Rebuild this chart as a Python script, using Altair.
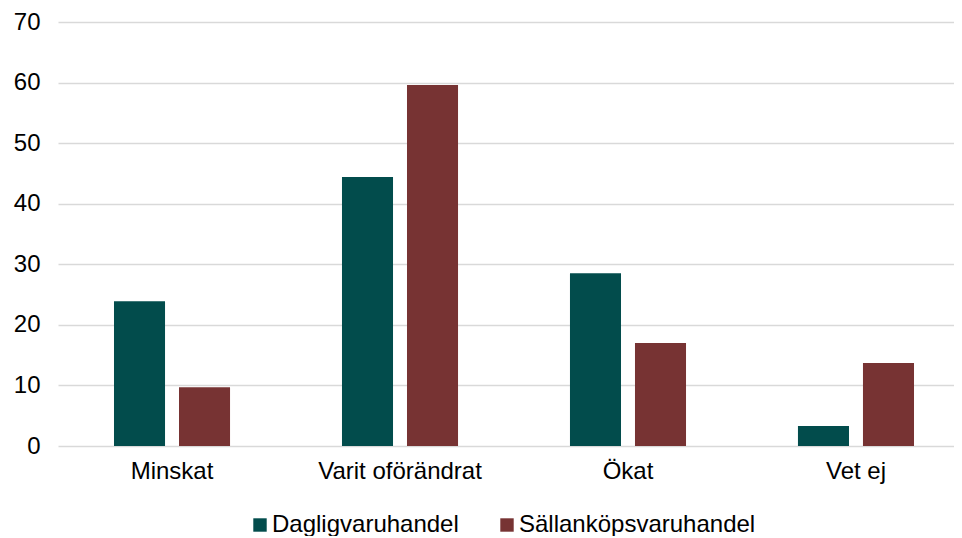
import altair as alt
import pandas as pd

categories = ["Minskat", "Varit oförändrat", "Ökat", "Vet ej"]
series = ["Dagligvaruhandel", "Sällanköpsvaruhandel"]
daglig = [23.9, 44.4, 28.5, 3.3]
sallan = [9.7, 59.6, 17.0, 13.7]
colors = ["#024C4C", "#773333"]

rows = []
for c, a, b in zip(categories, daglig, sallan):
    rows.append({"Kategori": c, "Serie": series[0], "Värde": a})
    rows.append({"Kategori": c, "Serie": series[1], "Värde": b})
df = pd.DataFrame(rows)

font = "Liberation Sans"

chart = alt.Chart(df).mark_bar().encode(
    x=alt.X("Kategori:N", sort=categories, title=None,
            scale=alt.Scale(range=[0, 912], paddingInner=0.491, paddingOuter=0.2456),
            axis=alt.Axis(labelAngle=0, labelFontSize=24, labelColor="#000000",
                          labelFont=font, domain=False, ticks=False, labelPadding=13)),
    xOffset=alt.XOffset("Serie:N", sort=series,
                        scale=alt.Scale(paddingInner=0.215, paddingOuter=0)),
    y=alt.Y("Värde:Q", title=None,
            scale=alt.Scale(domain=[0, 70], nice=False),
            axis=alt.Axis(values=[0, 10, 20, 30, 40, 50, 60, 70], labelFontSize=24,
                          labelColor="#000000", labelFont=font, domain=False, ticks=False,
                          labelPadding=18, gridColor="#D9D9D9", gridWidth=1.5)),
    color=alt.Color("Serie:N", sort=series,
                    scale=alt.Scale(domain=series, range=colors),
                    legend=alt.Legend(title=None, orient="none", direction="horizontal",
                                      legendX=190, legendY=491,
                                      symbolType="square", symbolSize=180, symbolStrokeWidth=0,
                                      labelFontSize=24, labelFont=font, labelColor="#000000",
                                      labelLimit=0, columnPadding=36, labelOffset=0)),
).properties(
    width=896,
    height=424,
    autosize=alt.AutoSizeParams(type="none"),
    padding={"left": 50, "top": 14, "right": 0, "bottom": 90},
).configure_view(stroke=None)

chart.save("out.html", embed_options={"renderer": "svg", "actions": False})
